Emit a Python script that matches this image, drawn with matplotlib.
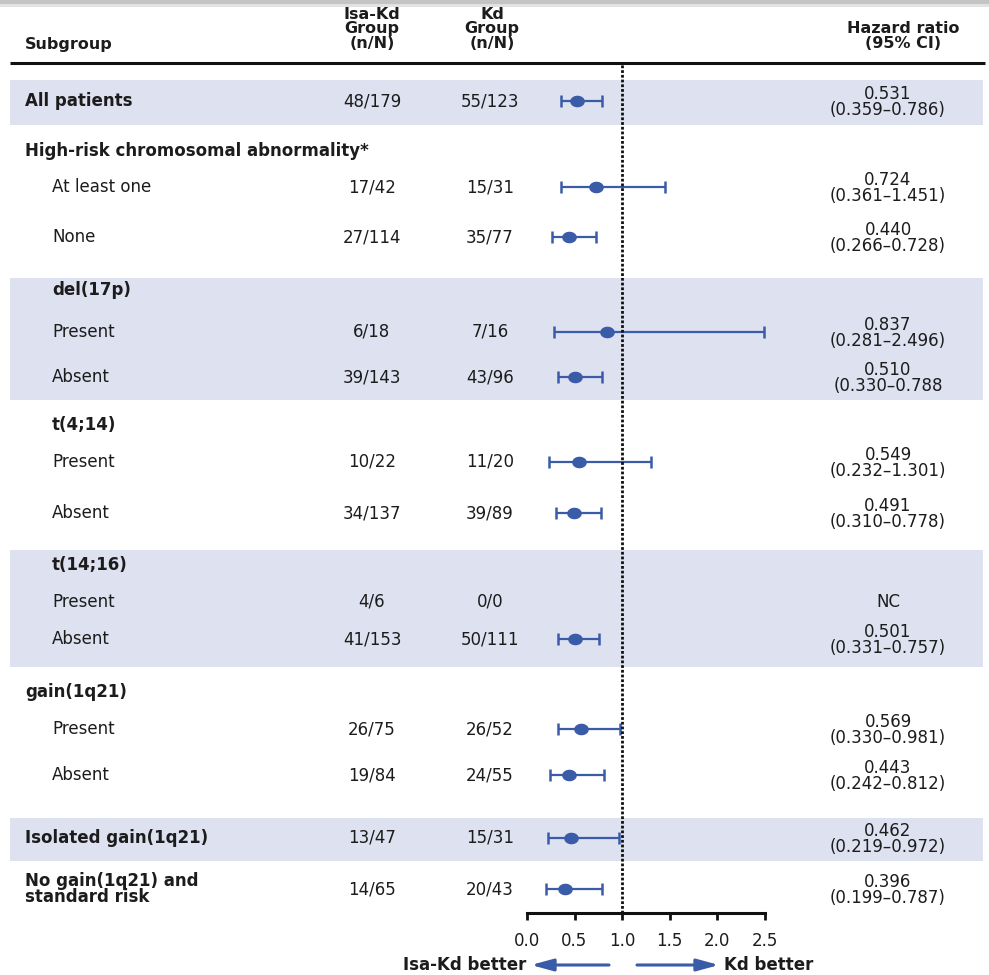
import numpy as np
import matplotlib
matplotlib.use("Agg")
import matplotlib.pyplot as plt
from matplotlib.patches import Rectangle
from matplotlib.path import Path

plt.rcParams["font.family"] = ["DejaVu Sans"]
plt.rcParams["font.size"] = 12

nan = np.nan

# table data
subgroups = ["All patients", "High-risk chromosomal abnormality*", "At least one", "None",
             "del(17p)", "Present", "Absent", "t(4;14)", "Present", "Absent",
             "t(14;16)", "Present", "Absent", "gain(1q21)", "Present", "Absent",
             "Isolated gain(1q21)", "No gain(1q21) and\nstandard risk"]
isa_kd_counts = ["48/179", "", "17/42", "27/114", "", "6/18", "39/143", "", "10/22", "34/137",
                 "", "4/6", "41/153", "", "26/75", "19/84", "13/47", "14/65"]
kd_counts = ["55/123", "", "15/31", "35/77", "", "7/16", "43/96", "", "11/20", "39/89",
             "", "0/0", "50/111", "", "26/52", "24/55", "15/31", "20/43"]
hr = [0.531, nan, 0.724, 0.440, nan, 0.837, 0.510, nan, 0.549, 0.491,
      nan, nan, 0.501, nan, 0.569, 0.443, 0.462, 0.396]
ci_lo = [0.359, nan, 0.361, 0.266, nan, 0.281, 0.330, nan, 0.232, 0.310,
         nan, nan, 0.331, nan, 0.330, 0.242, 0.219, 0.199]
ci_hi = [0.786, nan, 1.451, 0.728, nan, 2.496, 0.788, nan, 1.301, 0.778,
         nan, nan, 0.757, nan, 0.981, 0.812, 0.972, 0.787]
ci_text = ["(0.359\u20130.786)", "", "(0.361\u20131.451)", "(0.266\u20130.728)", "",
           "(0.281\u20132.496)", "(0.330\u20130.788", "", "(0.232\u20131.301)", "(0.310\u20130.778)",
           "", "", "(0.331\u20130.757)", "", "(0.330\u20130.981)", "(0.242\u20130.812)",
           "(0.219\u20130.972)", "(0.199\u20130.787)"]
nc_rows = [11]
xticks = [0.0, 0.5, 1.0, 1.5, 2.0, 2.5]

# layout (pixel rows, figure is 989 x 975)
row_y = [101, 151, 187, 237, 290, 332, 377, 425, 462, 513, 565, 602, 639, 692, 729, 775, 838, 889]
row_kind = ["main", "head0", "item", "item", "head1", "item", "item", "head1", "item", "item",
            "head1", "item", "item", "head0", "item", "item", "main", "main"]
bands = [(80, 125), (278, 400), (550, 667), (818, 861)]
indent = {"main": 25, "head0": 25, "head1": 52, "item": 52}

blue = "#3a5ba8"
band_col = "#dde1f0"
txt = "#1c1c1c"

fig = plt.figure(figsize=(9.89, 9.75), dpi=100)
bg = fig.add_axes([0, 0, 1, 1])
bg.set_xlim(0, 989)
bg.set_ylim(975, 0)
bg.axis("off")

# grey shadow strip at the very top
bg.add_patch(Rectangle((0, 0), 989, 4, color="#c4c4c4", lw=0))
bg.add_patch(Rectangle((0, 4), 989, 3, color="#e2e2e2", lw=0))

for y0, y1 in bands:
    bg.add_patch(Rectangle((10, y0), 973, y1 - y0, color=band_col, lw=0))
bg.plot([10, 985], [63, 63], color="#111111", lw=2.2, solid_capstyle="butt")

# headers
hdr = dict(fontweight="bold", ha="center", va="center", color=txt, fontsize=11.5,
           linespacing=0.92, multialignment="center")
bg.text(25, 44, "Subgroup", fontweight="bold", va="center", ha="left", color=txt, fontsize=11.5)
bg.text(372, 29, "Isa-Kd\nGroup\n(n/N)", **hdr)
bg.text(492, 29, "Kd\nGroup\n(n/N)", **hdr)
bg.text(903, 36, "Hazard ratio\n(95% CI)", **hdr)

# table rows
for i, lab in enumerate(subgroups):
    y = row_y[i]
    kind = row_kind[i]
    w = "normal" if kind == "item" else "bold"
    bg.text(indent[kind], y, lab, fontweight=w, ha="left", va="center", color=txt, linespacing=0.92)
    if isa_kd_counts[i]:
        bg.text(372, y, isa_kd_counts[i], ha="center", va="center", color=txt)
        bg.text(490, y, kd_counts[i], ha="center", va="center", color=txt)
    if not np.isnan(hr[i]):
        bg.text(888, y + 1, f"{hr[i]:.3f}\n{ci_text[i]}", ha="center", va="center",
                multialignment="center", color=txt, linespacing=0.85)
    elif i in nc_rows:
        bg.text(888, y, "NC", ha="center", va="center", color=txt)

# forest panel: data y equals pixel rows
ax = fig.add_axes([527 / 989, (975 - 913) / 975, 237.5 / 989, (913 - 62) / 975])
ax.set_xlim(0, 2.5)
ax.set_ylim(913, 62)
ax.patch.set_alpha(0)
for s in ["top", "right", "left"]:
    ax.spines[s].set_visible(False)
ax.spines["bottom"].set_linewidth(2.2)
ax.spines["bottom"].set_color("#111111")
ax.set_yticks([])
ax.set_xticks(xticks)
ax.set_xticklabels([f"{t:.1f}" for t in xticks])
ax.tick_params(axis="x", length=5, width=2, pad=9, colors="#111111", labelcolor=txt, labelsize=12)

hr_a = np.array(hr)
lo_a = np.array(ci_lo)
hi_a = np.array(ci_hi)
ys = np.array(row_y, dtype=float)
ok = ~np.isnan(hr_a)

t = np.linspace(0, 2 * np.pi, 60)
ellipse = Path(np.column_stack([1.3 * np.cos(t), np.sin(t)]), closed=True)

ax.errorbar(hr_a[ok], ys[ok], xerr=[hr_a[ok] - lo_a[ok], hi_a[ok] - hr_a[ok]],
            fmt="none", ecolor=blue, elinewidth=1.6, capsize=4.6, capthick=1.8,
            clip_on=False, zorder=3)
ax.plot(hr_a[ok], ys[ok], ls="none", marker=ellipse, ms=9.5, color=blue,
        clip_on=False, zorder=3)
ax.axvline(1.0, color="#111111", lw=2.0, ls=(0, (1, 0.7)), zorder=4)

# direction arrows
bg.text(526, 965, "Isa-Kd better", fontweight="bold", ha="right", va="center", color=txt)
bg.text(724, 965, "Kd better", fontweight="bold", ha="left", va="center", color=txt)
arrow = dict(arrowstyle="-|>,head_length=1.1,head_width=0.3", color=blue, lw=2.2,
             shrinkA=0, shrinkB=0)
bg.annotate("", xy=(531, 965), xytext=(609, 965), arrowprops=arrow)
bg.annotate("", xy=(719, 965), xytext=(637, 965), arrowprops=arrow)

fig.savefig("out.png", dpi=100)
